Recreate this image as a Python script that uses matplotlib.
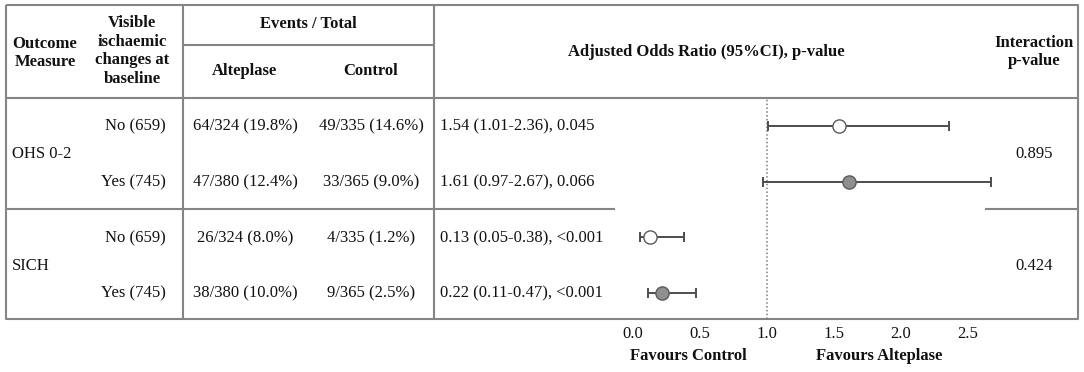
import matplotlib.pyplot as plt
import numpy as np

plt.rcParams['font.family'] = ['Liberation Serif', 'DejaVu Serif']

# table content
outcomes = ["OHS 0-2", "SICH"]
subgroups = ["No (659)", "Yes (745)", "No (659)", "Yes (745)"]
alteplase = ["64/324 (19.8%)", "47/380 (12.4%)", "26/324 (8.0%)", "38/380 (10.0%)"]
control = ["49/335 (14.6%)", "33/365 (9.0%)", "4/335 (1.2%)", "9/365 (2.5%)"]
p_values = ["0.045", "0.066", "<0.001", "<0.001"]
interaction_p = ["0.895", "0.424"]

# adjusted odds ratios and 95% CI
odds_ratio = [1.54, 1.61, 0.13, 0.22]
ci_low = [1.01, 0.97, 0.05, 0.11]
ci_high = [2.36, 2.67, 0.38, 0.47]
visible_change = [False, True, False, True]

xticks = [0.0, 0.5, 1.0, 1.5, 2.0, 2.5]

W, H = 1084, 372
fig = plt.figure(figsize=(W / 100, H / 100), dpi=100)

# background axes in pixel units for the table
bg = fig.add_axes([0, 0, 1, 1])
bg.set_xlim(0, W)
bg.set_ylim(H, 0)
bg.axis("off")

line_kw = dict(color="#858585", lw=1.5, solid_capstyle="butt")
left, right, top, bottom = 6, 1078, 5, 319
col1, col2 = 183, 434
header_y, events_y, mid_y = 98, 45, 209

bg.plot([left, right, right, left, left], [top, top, bottom, bottom, top], **line_kw)
bg.plot([col1, col1], [top, bottom], **line_kw)
bg.plot([col2, col2], [top, bottom], **line_kw)
bg.plot([left, right], [header_y, header_y], **line_kw)
bg.plot([col1, col2], [events_y, events_y], **line_kw)
bg.plot([left, 615], [mid_y, mid_y], **line_kw)
bg.plot([985, right], [mid_y, mid_y], **line_kw)

fs = 12
txt = "#111111"
hdr = dict(fontsize=fs, fontweight="bold", ha="center", va="center", color=txt, linespacing=1.2)
bg.text(45, 53, "Outcome\nMeasure", **hdr)
bg.text(132, 51, "Visible\nischaemic\nchanges at\nbaseline", **hdr)
bg.text(308, 24, "Events / Total", **hdr)
bg.text(244, 71, "Alteplase", **hdr)
bg.text(371, 71, "Control", **hdr)
bg.text(706, 52, "Adjusted Odds Ratio (95%CI), p-value", **hdr)
bg.text(1034, 52, "Interaction\np-value", **hdr)

row_y = [126, 182, 238, 293]
body = dict(fontsize=fs, va="center", color=txt)
for i, y in enumerate(row_y):
    bg.text(166, y, subgroups[i], ha="right", **body)
    bg.text(245, y, alteplase[i], ha="center", **body)
    bg.text(371, y, control[i], ha="center", **body)
    or_text = f"{odds_ratio[i]:.2f} ({ci_low[i]:.2f}-{ci_high[i]:.2f}), {p_values[i]}"
    bg.text(440, y, or_text, ha="left", **body)

for k, name in enumerate(outcomes):
    y = (row_y[2 * k] + row_y[2 * k + 1]) / 2
    bg.text(12, y, name, ha="left", **body)
    bg.text(1034, y, interaction_p[k], ha="center", **body)

# forest plot axes
ax = fig.add_axes([col2 / W, (H - bottom) / H, (right - col2) / W, (bottom - header_y) / H])
ax.patch.set_alpha(0)
for s in ax.spines.values():
    s.set_visible(False)
x0, scale = 633, 134.0
ax.set_xlim((col2 - x0) / scale, (right - x0) / scale)
ax.set_ylim(3.47, -0.5)
ax.set_yticks([])
ax.set_xticks(xticks)
ax.set_xticklabels([f"{t:.1f}" for t in xticks], fontsize=fs, color=txt)
ax.tick_params(axis="x", length=0, pad=5)

ax.axvline(1.0, color="#7a7a7a", lw=1.1, ls=(0, (1, 1.5)), zorder=1)

ypos = np.arange(len(odds_ratio))
for i in range(len(odds_ratio)):
    ax.errorbar(odds_ratio[i], ypos[i],
                xerr=[[odds_ratio[i] - ci_low[i]], [ci_high[i] - odds_ratio[i]]],
                fmt="none", ecolor="#4d4d4d", elinewidth=1.4, capsize=3.5, capthick=1.4, zorder=2)
    face = "#8f8f8f" if visible_change[i] else "white"
    ax.plot(odds_ratio[i], ypos[i], "o", ms=9.5, mfc=face, mec="#5a5a5a", mew=1.0, zorder=3)

bg.text(688, 356, "Favours Control", fontsize=fs, fontweight="bold", ha="center", va="center", color=txt)
bg.text(879, 356, "Favours Alteplase", fontsize=fs, fontweight="bold", ha="center", va="center", color=txt)

fig.savefig("out.png", dpi=100)
